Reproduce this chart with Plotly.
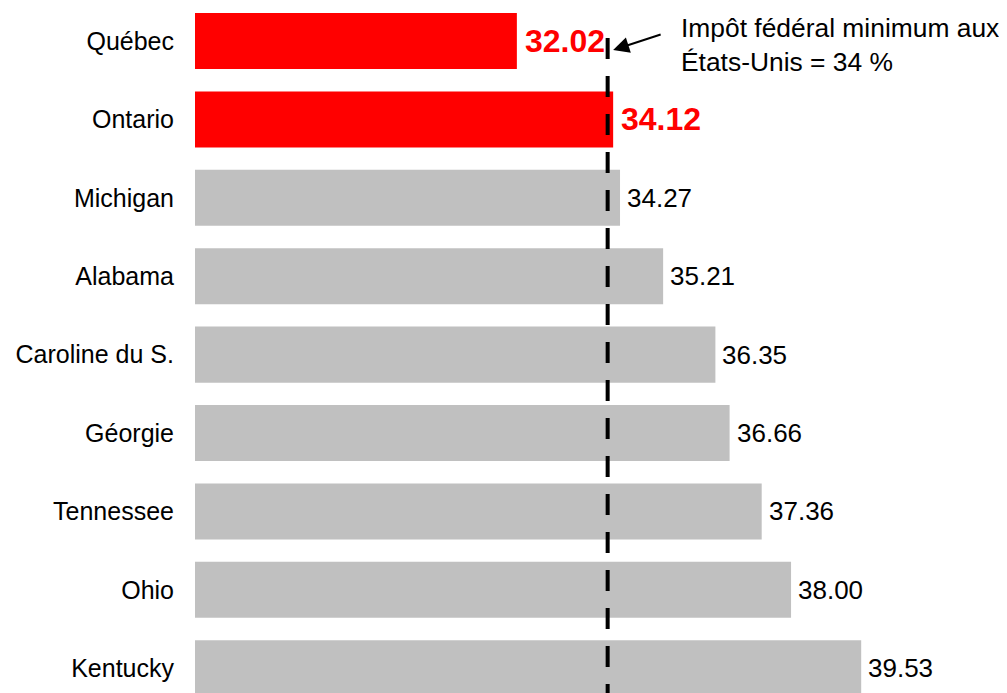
import plotly.graph_objects as go

# Taux d'imposition combinés (%)
juridictions = ["Québec", "Ontario", "Michigan", "Alabama", "Caroline du S.",
                "Géorgie", "Tennessee", "Ohio", "Kentucky"]
taux = [32.02, 34.12, 34.27, 35.21, 36.35, 36.66, 37.36, 38.00, 39.53]
canada = ["Québec", "Ontario"]
seuil_us = 34.0
axe_min = 25.0

ROUGE = "#FF0000"
GRIS = "#C0C0C0"
FONT = "Liberation Sans, Arial, sans-serif"

# la page html ajoute une marge de 8 px autour de la figure
W, H = 999, 685

couleurs = [ROUGE if j in canada else GRIS for j in juridictions]

fig = go.Figure()
fig.add_trace(go.Bar(
    x=[v - axe_min for v in taux],
    y=juridictions,
    base=axe_min,
    orientation="h",
    width=0.715,
    marker=dict(color=couleurs, line=dict(width=0)),
    hoverinfo="skip",
    showlegend=False,
))

# étiquettes de valeur
for j, v in zip(juridictions, taux):
    rouge = j in canada
    fig.add_annotation(
        x=v, y=j, xref="x", yref="y",
        text=f"<b>{v:.2f}</b>" if rouge else f"{v:.2f}",
        showarrow=False, xanchor="left", yanchor="middle",
        xshift=6 if rouge else 5,
        font=dict(family=FONT, size=32 if rouge else 26,
                  color=ROUGE if rouge else "black"),
    )

# ligne du seuil américain
fig.add_shape(type="line", xref="x", yref="paper",
              x0=seuil_us, x1=seuil_us, y0=1 - 30 / H, y1=0,
              line=dict(color="black", width=4, dash="21px,17px"))

# flèche + note
fig.add_annotation(
    x=seuil_us + 0.12, y=1 - 42 / H, xref="x", yref="paper",
    text="", showarrow=True, ax=49, ay=-16,
    arrowhead=2, arrowsize=1.6, arrowwidth=2, arrowcolor="black",
)
fig.add_annotation(
    x=(679 - 195) / 812, y=1 - 36.5 / H, xref="paper", yref="paper",
    text="Impôt fédéral minimum aux<br>États-Unis = 34 %",
    showarrow=False, xanchor="left", yanchor="middle", align="left",
    font=dict(family=FONT, size=26.4, color="black"),
)

fig.update_layout(
    width=W, height=H,
    margin=dict(l=187, r=0, t=0, b=0),
    plot_bgcolor="white", paper_bgcolor="white",
    xaxis=dict(range=[axe_min, axe_min + 17.71], visible=False, fixedrange=True),
    yaxis=dict(
        categoryorder="array", categoryarray=juridictions,
        range=[8.316, -0.421],
        showgrid=False, zeroline=False, showline=False, ticks="",
        ticklabelstandoff=20,
        tickfont=dict(family=FONT, size=25, color="black"),
    ),
)

fig.write_html("out.html")
